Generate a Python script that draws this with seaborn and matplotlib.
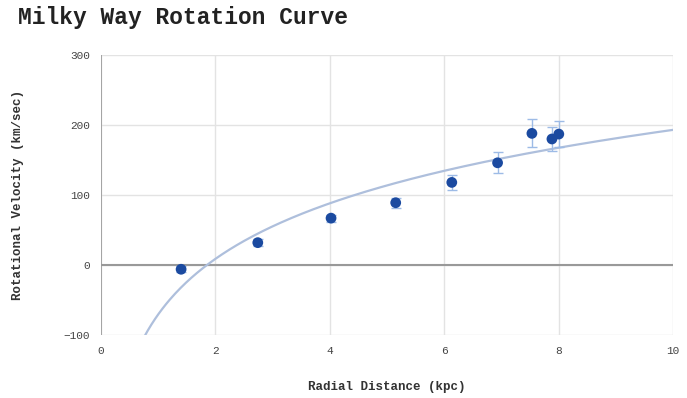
import numpy as np
import pandas as pd
import seaborn as sns
import matplotlib.pyplot as plt

# datos
radio = [1.40, 2.74, 4.02, 5.15, 6.13, 6.93, 7.53, 7.88, 8.00]
velocidad = [-6, 32, 67, 89, 118, 146, 188, 180, 187]
error = [4, 5, 5, 7, 11, 15, 20, 17, 19]

df = pd.DataFrame({'Radial Distance (kpc)': radio, 'Rotational Velocity (km/sec)': velocidad, 'err': error})

# linea de tendencia logaritmica ajustada a los datos
a, b = np.polyfit(np.log(df['Radial Distance (kpc)']), df['Rotational Velocity (km/sec)'], 1)
xs = np.linspace(0.5, 10, 300)
tend = pd.DataFrame({'x': xs, 'y': a * np.log(xs) + b})

sns.set_style('white')
plt.rcParams['font.family'] = ['Liberation Mono', 'DejaVu Sans Mono']

fig = plt.figure(figsize=(6.87, 3.98), dpi=100)
ax = fig.add_axes([0.147, 0.158, 0.833, 0.704])

ax.grid(True, color='#e3e3e3', lw=1)
ax.axhline(0, color='#999999', lw=1.5, zorder=1)

sns.lineplot(data=tend, x='x', y='y', ax=ax, color='#aebfdc', lw=1.6, zorder=2)
ax.errorbar(df['Radial Distance (kpc)'], df['Rotational Velocity (km/sec)'], yerr=df['err'],
            fmt='none', ecolor='#9dbbe6', elinewidth=1, capsize=3.5, zorder=3)
sns.scatterplot(data=df, x='Radial Distance (kpc)', y='Rotational Velocity (km/sec)', ax=ax,
                color='#1b4aa0', s=60, edgecolor='none', zorder=4)

ax.set_xlim(0, 10)
ax.set_ylim(-100, 300)
ax.set_xticks([0, 2, 4, 6, 8, 10])
ax.set_yticks([-100, 0, 100, 200, 300])
ax.tick_params(labelsize=8, colors='#444444', length=0, pad=8)
for s in ax.spines.values():
    s.set_visible(False)
ax.axvline(0, color='#999999', lw=1.2, zorder=1)

ax.set_xlabel('Radial Distance (kpc)', fontsize=9, fontweight='bold', color='#333333', labelpad=18)
ax.set_ylabel('Rotational Velocity (km/sec)', fontsize=9, fontweight='bold', color='#333333', labelpad=28)
fig.text(0.026, 0.955, 'Milky Way Rotation Curve', fontsize=16.5, fontweight='bold', color='#222222', va='center')

fig.savefig('out.png', dpi=100)
